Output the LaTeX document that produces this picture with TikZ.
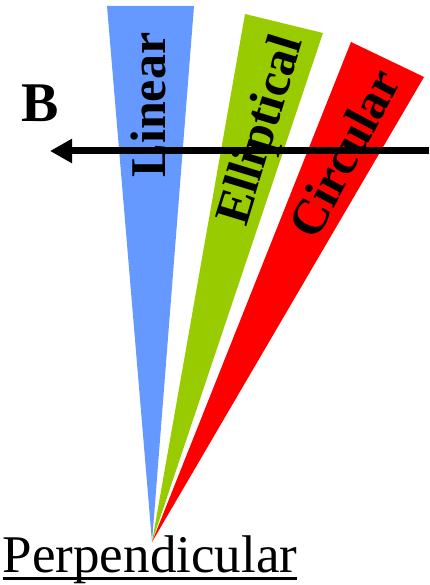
\documentclass[tikz,border=0pt]{standalone}
\usepackage{fontspec}
\setmainfont{Liberation Serif}
\usepackage{xcolor}
\usepackage{tikz}
\usetikzlibrary{arrows.meta}

\definecolor{linblue}{HTML}{6699FF}
\definecolor{ellgreen}{HTML}{99CC00}
\definecolor{cirred}{HTML}{FF0000}

\begin{document}
\begin{tikzpicture}[
  x=1pt, y=-1pt,
  lbl/.style={font=\fontsize{50}{60}\selectfont\bfseries, inner sep=0pt},
  fld/.style={-{Triangle[length=22pt,width=23pt]}, line width=7pt}
]
\useasboundingbox (0,0) rectangle (429,585);
% ── wedges ─────────────────────────────────────
\coordinate (apex) at (152,542);
\fill[linblue] (107,6) -- (194,6) -- (apex) -- cycle;
\fill[ellgreen] (245,14) -- (323,33) -- (apex) -- cycle;
\fill[cirred] (351,42) -- (424,77) -- (apex) -- cycle;
% ── field ──────────────────────────────────────
\coordinate (bR) at (429,151);
\coordinate (bL) at (50,151);
\draw[fld] (bR) -- (bL);
\node[font=\fontsize{56}{60}\selectfont\bfseries, inner sep=0pt] (b) at (40,103) {B};
% ── labels ─────────────────────────────────────
\node[lbl, rotate=90] (lin) at (148,105) {Linear};
\node[lbl, rotate=73] (ell) at (263,131) {Elliptical};
\node[lbl, rotate=62] (cir) at (344,153) {Circular};
\node[font=\fontsize{53}{60}\selectfont, inner sep=0pt, anchor=base] (perp) at (150,572) {Perpendicular};
\draw[line width=3pt] ([yshift=-6pt]perp.base west) -- ([yshift=-6pt]perp.base east);
\end{tikzpicture}
\end{document}
